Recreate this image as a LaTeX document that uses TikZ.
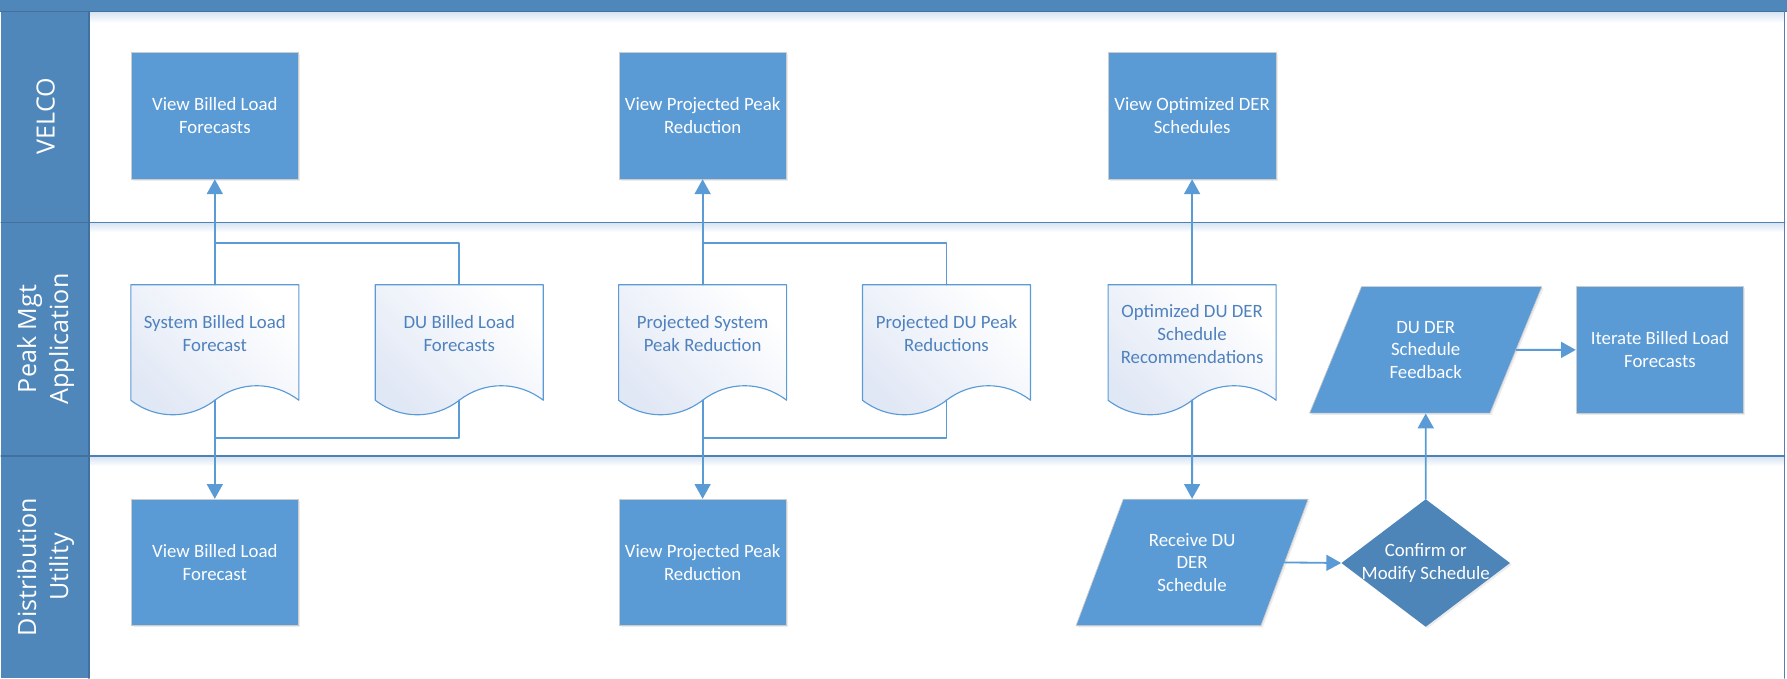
\documentclass[tikz,border=0pt]{standalone}
\usepackage{fontspec}
\setmainfont{Carlito}
\newfontfamily\lanefont{Open Sans}
\usetikzlibrary{arrows.meta,shapes.geometric,calc,shadows}
\definecolor{boxblue}{HTML}{5B9BD5}
\definecolor{laneblue}{HTML}{4F87BA}
\definecolor{lanedark}{HTML}{41719C}
\definecolor{laneline}{HTML}{4E81B6}
\definecolor{decision}{HTML}{4D85B8}
\definecolor{doctext}{HTML}{4F81BD}
\definecolor{docfill}{HTML}{E1E8F5}
\definecolor{glow}{HTML}{D9E5F3}

\begin{document}
\begin{tikzpicture}[line cap=round,line join=round,x=1pt,y=-1pt,
	every node/.style={font=\fontsize{16.5}{20}\selectfont,align=center,inner sep=0pt},
	boxshadow/.style={drop shadow={opacity=0.15,shadow xshift=1.5pt,shadow yshift=-1.5pt}},
	procbox/.style={rectangle,fill=boxblue,draw=black!20,line width=0.6pt,text=white,minimum width=147pt,minimum height=111pt,boxshadow},
	docbox/.style={rectangle,minimum width=147pt,minimum height=101pt},
	doclabel/.style={text=doctext},
	docline/.style={draw=boxblue,line width=1pt,top color=docfill,bottom color=white,shading angle=135},
	databox/.style={trapezium,trapezium left angle=63.2,trapezium right angle=116.8,trapezium stretches=true,fill=boxblue,draw=black!20,line width=0.6pt,text=white,minimum width=204pt,minimum height=111pt,boxshadow},
	decbox/.style={diamond,fill=decision,minimum width=148pt,minimum height=112pt,boxshadow},
	flow/.style={draw=boxblue,line width=1.6pt,-{Triangle[width=14pt,length=13pt]}},
	joinline/.style={draw=boxblue,line width=1.6pt},
	lanetext/.style={font=\lanefont\fontsize{22}{28}\selectfont,text=white,rotate=90}]
	\useasboundingbox (0,0) rectangle (1568,595);
	% swimlanes
	\fill [laneblue] (0,0) rectangle (1568,10);
	\fill [laneblue] (1,10) rectangle (78,595);
	\shade [top color=glow,bottom color=white] (78,11) rectangle (1566,20);
	\shade [top color=glow,bottom color=white] (78,196) rectangle (1566,204);
	\shade [top color=glow,bottom color=white] (78,401) rectangle (1566,409);
	\draw [lanedark,line width=1.2pt] (0,10) -- (1568,10);
	\draw [laneline,line width=1.2pt] (78,195) -- (1566,195);
	\draw [laneline,line width=1.2pt] (78,400) -- (1566,400);
	\draw [lanedark,line width=1.2pt] (1,195) -- (78,195);
	\draw [lanedark,line width=1.2pt] (1,400) -- (78,400);
	\draw [lanedark,line width=1.2pt] (78,10) -- (78,595);
	\draw [laneline,line width=1.2pt] (1566,10) -- (1566,595);
	\node [lanetext] (velco) at (40,102) {VELCO};
	\node [lanetext] (peak) at (40,297.5) {Peak Mgt\\Application};
	\node [lanetext] (dist) at (40,497.5) {Distribution\\Utility};
	% VELCO
	\node [procbox] (vbl) at (188.5,101.5) {View Billed Load\\Forecasts};
	\node [procbox] (vpr) at (616.5,101.5) {View Projected Peak\\Reduction};
	\node [procbox] (vod) at (1046,101.5) {View Optimized DER\\Schedules};
	% Peak Mgt Application
	\node [docbox] (sbl) at (188.5,300.5) {};
	\node [docbox] (dbl) at (403,300.5) {};
	\node [docbox] (psr) at (616.5,300.5) {};
	\node [docbox] (pdr) at (830.5,300.5) {};
	\node [docbox] (odr) at (1046,300.5) {};
	\foreach \d in {sbl,dbl,psr,pdr,odr}
		\draw [docline] (\d.south west) -- (\d.north west) -- (\d.north east) -- (\d.south east)
			.. controls ($(\d.south east)+(-22,-17)$) and ($(\d.south)+(22,-17)$) .. (\d.south)
			.. controls ($(\d.south)+(-22,17)$) and ($(\d.south west)+(22,17)$) .. (\d.south west) -- cycle;
	\node [doclabel] (sbltxt) at (188.5,293) {System Billed Load\\Forecast};
	\node [doclabel] (dbltxt) at (403,293) {DU Billed Load\\Forecasts};
	\node [doclabel] (psrtxt) at (616.5,293) {Projected System\\Peak Reduction};
	\node [doclabel] (pdrtxt) at (830.5,293) {Projected DU Peak\\Reductions};
	\node [doclabel] (odrtxt) at (1046,293) {Optimized DU DER\\Schedule\\Recommendations};
	\node [databox] (dsf) at (1251,307) {DU DER\\Schedule\\Feedback};
	\node [procbox] (ibl) at (1456.5,307) {Iterate Billed Load\\Forecasts};
	% Distribution Utility
	\node [procbox] (ubl) at (188.5,493.5) {View Billed Load\\Forecast};
	\node [procbox] (upr) at (616.5,493.5) {View Projected Peak\\Reduction};
	\node [databox] (rds) at (1046,493.5) {Receive DU\\DER\\Schedule};
	\node [decbox] (cms) at (1251,494) {};
	\node [text=white] (cmstxt) at (1251,494) {Confirm or\\Modify Schedule};
	% connectors
	\coordinate (jt1) at (188.5,213);
	\coordinate (jb1) at (188.5,384);
	\coordinate (jt2) at (616.5,213);
	\coordinate (jb2) at (616.5,384);
	\draw [flow] (sbl.north) -- (vbl.south);
	\draw [joinline] (dbl.north) |- (jt1);
	\draw [flow] (sbl.south) -- (ubl.north);
	\draw [joinline] (dbl.south) |- (jb1);
	\draw [flow] (psr.north) -- (vpr.south);
	\draw [joinline] (pdr.north) |- (jt2);
	\draw [flow] (psr.south) -- (upr.north);
	\draw [joinline] (pdr.south) |- (jb2);
	\draw [flow] (odr.north) -- (vod.south);
	\draw [flow] (odr.south) -- (rds.north);
	\draw [flow] (rds.east) -- (cms.west);
	\draw [flow] (cms.north) -- (dsf.south);
	\draw [flow] (dsf.east) -- (ibl.west);
\end{tikzpicture}
\end{document}
